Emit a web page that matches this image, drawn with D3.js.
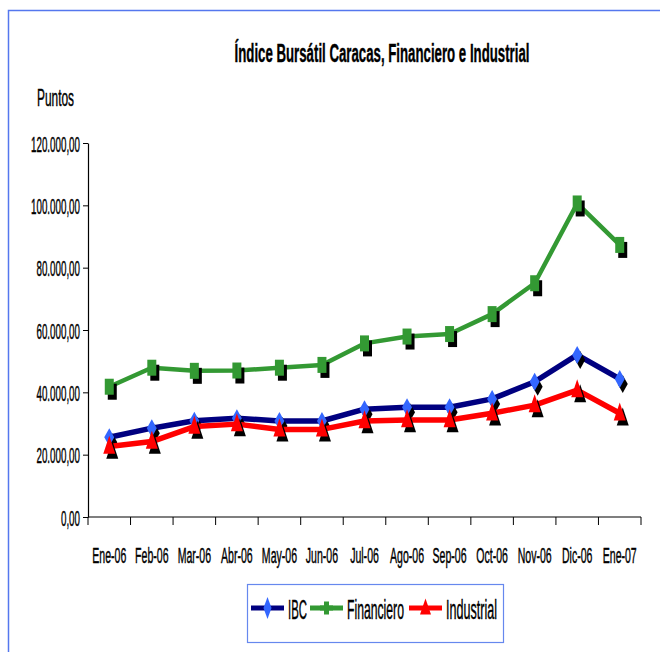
<!DOCTYPE html>
<html lang="es">
<head>
    <meta charset="UTF-8">
    <title>Índice Bursátil Caracas</title>
    <script src="https://d3js.org/d3.v7.min.js"></script>
    <style>
        body { margin: 0; background: #fff; }
        text { font-family: "Liberation Sans", Arial, sans-serif; fill: #000; }
        text.heavy { stroke: #000; stroke-width: 0.45px; }
    </style>
</head>
<body>

<div id="chart"></div>

<script>
    // data
    var months = ["Ene-06", "Feb-06", "Mar-06", "Abr-06", "May-06", "Jun-06", "Jul-06",
                  "Ago-06", "Sep-06", "Oct-06", "Nov-06", "Dic-06", "Ene-07"];
    var ibc = [25600, 28500, 30900, 31700, 30800, 30800, 34600, 35200, 35200, 37900, 43400, 52000, 44300];
    var financiero = [41800, 47900, 46900, 47000, 47900, 48800, 55700, 57900, 58700, 65100, 75000, 100600, 87300];
    var industrial = [22600, 24200, 29000, 29800, 28100, 28100, 30800, 31100, 31100, 33300, 35900, 40700, 33300];
    var yTicks = [0, 20000, 40000, 60000, 80000, 100000, 120000];
    var seriesNames = ["IBC", "Financiero", "Industrial"];

    var W = 660, H = 652;
    var plot = {left: 88, right: 641, top: 143, bottom: 517};

    var svg = d3.select("#chart").append("svg")
        .attr("width", W)
        .attr("height", H);

    // outer frame (runs off the bottom/right edge)
    svg.append("rect")
        .attr("x", 8.5).attr("y", 10.5)
        .attr("width", W + 20).attr("height", H + 20)
        .attr("fill", "#fff")
        .attr("stroke", "#5577ee")
        .attr("stroke-width", 1.5);

    // horizontal factor that makes `str` at `size` px come out `target` px wide
    var probe = svg.append("text").attr("opacity", 0);
    function factor(str, size, target) {
        probe.attr("font-size", size).text(str);
        return target / probe.node().getComputedTextLength();
    }

    // squeeze a text horizontally so its width matches target
    function squeeze(sel, target) {
        sel.each(function() {
            var t = d3.select(this);
            var w = this.getComputedTextLength();
            var sx = target / w;
            var x = +t.attr("x") || 0, y = +t.attr("y") || 0;
            t.attr("x", null).attr("y", null)
             .attr("transform", "translate(" + x + "," + y + ") scale(" + sx + ",1)");
        });
    }

    var x = d3.scaleBand()
        .domain(months)
        .range([plot.left, plot.right]);

    var y = d3.scaleLinear()
        .domain([0, 120000])
        .range([plot.bottom, plot.top]);

    var es = d3.formatLocale({decimal: ",", thousands: ".", grouping: [3], currency: ["", ""]});
    var fmt = es.format(",.2f");

    // title
    svg.append("text")
        .attr("x", 382).attr("y", 62)
        .attr("text-anchor", "middle")
        .attr("font-size", 26)
        .attr("font-weight", "bold")
        .style("stroke", "#000").style("stroke-width", "0.4px")
        .text("Índice Bursátil Caracas, Financiero e Industrial")
        .call(squeeze, 295);

    // y axis title
    svg.append("text")
        .attr("class", "heavy")
        .attr("x", 37).attr("y", 106)
        .attr("font-size", 24)
        .text("Puntos")
        .call(squeeze, 37);

    // Y axis
    var yAxis = svg.append("g")
        .attr("transform", "translate(" + plot.left + ",0)")
        .call(d3.axisLeft(y).tickValues(yTicks).tickSize(5).tickSizeOuter(0).tickFormat(fmt));
    yAxis.select(".domain").attr("stroke", "#000").attr("stroke-width", 1.2);
    yAxis.selectAll(".tick line").attr("stroke", "#000");
    var ySx = factor("120.000,00", 22, 49);
    yAxis.selectAll(".tick text")
        .attr("class", "heavy")
        .attr("font-family", null).attr("font-size", null)
        .style("font-size", "22px")
        .attr("x", null).attr("dy", null)
        .attr("transform", "translate(-8,8) scale(" + ySx + ",1)");

    // X axis: line, tick marks between categories, labels under each category
    var xAxis = svg.append("g");
    xAxis.append("line")
        .attr("x1", plot.left).attr("x2", plot.right)
        .attr("y1", plot.bottom).attr("y2", plot.bottom)
        .attr("stroke", "#000").attr("stroke-width", 1.2);
    xAxis.selectAll(".xtick")
        .data(months.concat(["end"]))
        .join("line")
        .attr("class", "xtick")
        .attr("x1", function(d, i) { return plot.left + i * x.bandwidth(); })
        .attr("x2", function(d, i) { return plot.left + i * x.bandwidth(); })
        .attr("y1", plot.bottom).attr("y2", plot.bottom + 8)
        .attr("stroke", "#000");
    var xSx = factor("Ene-06", 22, 34);
    xAxis.selectAll(".xlab")
        .data(months)
        .join("text")
        .attr("class", "xlab heavy")
        .attr("text-anchor", "middle")
        .attr("font-size", 22)
        .attr("transform", function(d) {
            return "translate(" + (x(d) + x.bandwidth() / 2) + ",563) scale(" + xSx + ",1)";
        })
        .text(function(d) { return d; });

    // markers
    function diamond(w, h) {
        return "M0," + (-h / 2) + "L" + (w / 2) + ",0L0," + (h / 2) + "L" + (-w / 2) + ",0Z";
    }
    function triangle(w, h) {
        return "M0," + (-h * 0.6) + "L" + (w / 2) + "," + (h * 0.4) + "L" + (-w / 2) + "," + (h * 0.4) + "Z";
    }
    function bar(w, h) {
        return "M" + (-w / 2) + "," + (-h / 2) + "h" + w + "v" + h + "h" + (-w) + "Z";
    }
    function plus(w, h, t) {
        return bar(t, h) + bar(w, t);
    }

    var series = [
        {name: seriesNames[0], values: ibc, line: "#000080", fill: "#3366ff", width: 5.5,
         shape: diamond(10, 18), legendShape: diamond(8, 22)},
        {name: seriesNames[1], values: financiero, line: "#339933", fill: "#339933", width: 4.5,
         shape: bar(9, 16), legendShape: plus(13, 13, 5)},
        {name: seriesNames[2], values: industrial, line: "#ff0000", fill: "#ff0000", width: 5.5,
         shape: triangle(12, 18), legendShape: triangle(11, 16)}
    ];

    var cx = function(i) { return x(months[i]) + x.bandwidth() / 2; };

    var line = d3.line()
        .x(function(d, i) { return cx(i); })
        .y(function(d) { return y(d); });

    // draw Financiero first, then IBC, then Industrial on top
    [1, 0, 2].forEach(function(k) {
        var s = series[k];
        var g = svg.append("g");
        g.append("path")
            .datum(s.values)
            .attr("fill", "none")
            .attr("stroke", s.line)
            .attr("stroke-width", s.width)
            .attr("stroke-linejoin", "round")
            .attr("d", line);
        // black drop shadows
        g.selectAll(".shadow")
            .data(s.values)
            .join("path")
            .attr("class", "shadow")
            .attr("d", s.shape)
            .attr("fill", "#000")
            .attr("transform", function(d, i) { return "translate(" + (cx(i) + 3) + "," + (y(d) + 5) + ")"; });
        g.selectAll(".mark")
            .data(s.values)
            .join("path")
            .attr("class", "mark")
            .attr("d", s.shape)
            .attr("fill", s.fill)
            .attr("transform", function(d, i) { return "translate(" + cx(i) + "," + y(d) + ")"; });
    });

    // legend
    var legend = svg.append("g");
    legend.append("rect")
        .attr("x", 247.5).attr("y", 584.5)
        .attr("width", 256).attr("height", 58)
        .attr("fill", "#fff")
        .attr("stroke", "#6688ee")
        .attr("stroke-width", 1.2);

    var legendX = [251, 310, 409];
    var legendW = [19, 57, 51];
    series.forEach(function(s, i) {
        var lx = legendX[i];
        legend.append("line")
            .attr("x1", lx).attr("x2", lx + 33)
            .attr("y1", 608).attr("y2", 608)
            .attr("stroke", s.line)
            .attr("stroke-width", 5);
        legend.append("path")
            .attr("d", s.legendShape)
            .attr("fill", s.fill)
            .attr("transform", "translate(" + (lx + 16.5) + ",608)");
        legend.append("text")
            .attr("class", "heavy")
            .attr("x", lx + 37).attr("y", 619)
            .attr("font-size", 28)
            .text(s.name)
            .call(squeeze, legendW[i]);
    });
</script>

</body>
</html>
